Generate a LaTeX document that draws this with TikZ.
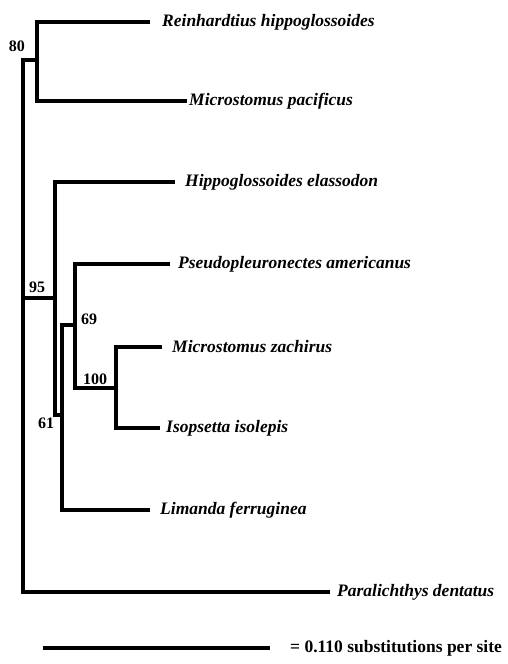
\documentclass[tikz,border=0pt]{standalone}
\usepackage{fontspec}
\setmainfont{Liberation Serif}
\begin{document}
\begin{tikzpicture}[x=1pt,y=-1pt,
  branch/.style={line width=4.5pt,line cap=rect,line join=miter},
  leaf/.style={anchor=west,inner sep=0pt,font=\fontsize{17.5}{20}\selectfont\bfseries\itshape},
  support/.style={inner sep=0pt,font=\fontsize{16}{18}\selectfont\bfseries},
  scaletext/.style={anchor=west,inner sep=0pt,font=\fontsize{17.5}{20}\selectfont\bfseries}]
\useasboundingbox (0,0) rectangle (507,664);
% internal nodes
\coordinate (r)    at (23,60);
\coordinate (n80)  at (37,60);
\coordinate (r95)  at (23,298);
\coordinate (n95)  at (55,298);
\coordinate (n61)  at (62,415);
\coordinate (n69)  at (75,325);
\coordinate (n100) at (116,388);
% leaves
\node[leaf] (RH) at (162,22)  {Reinhardtius hippoglossoides};
\node[leaf] (MP) at (189,101) {Microstomus pacificus};
\node[leaf] (HE) at (185,182) {Hippoglossoides elassodon};
\node[leaf] (PA) at (178,264) {Pseudopleuronectes americanus};
\node[leaf] (MZ) at (172,347) {Microstomus zachirus};
\node[leaf] (IS) at (166,428) {Isopsetta isolepis};
\node[leaf] (LF) at (160,510) {Limanda ferruginea};
\node[leaf] (PD) at (337,592) {Paralichthys dentatus};
% branches
\draw[branch] (r) -- (n80);
\draw[branch,shorten >=14pt] (n80) |- (RH.west);
\draw[branch,shorten >=4pt] (n80) |- (MP.west);
\draw[branch,shorten >=9pt] (r) |- (PD.west);
\draw[branch] (r95) -- (n95);
\draw[branch,shorten >=12pt] (n95) |- (HE.west);
\draw[branch] (n95) |- (n61);
\draw[branch,shorten >=12pt] (n61) |- (LF.west);
\draw[branch] (n61) |- (n69);
\draw[branch,shorten >=10pt] (n69) |- (PA.west);
\draw[branch] (n69) |- (n100);
\draw[branch,shorten >=12pt] (n100) |- (MZ.west);
\draw[branch,shorten >=8pt] (n100) |- (IS.west);
% support values
\node[support] (s80)  at (17,46)  {80};
\node[support] (s95)  at (37,287) {95};
\node[support] (s69)  at (89,319) {69};
\node[support] (s100) at (95,379) {100};
\node[support] (s61)  at (46,423) {61};
% scale bar
\coordinate (sbA) at (43,648);
\node[scaletext] (sbT) at (290,648) {= 0.110 substitutions per site};
\draw[branch,line cap=butt,shorten >=20pt] (sbA) -- (sbT.west);
\end{tikzpicture}
\end{document}
